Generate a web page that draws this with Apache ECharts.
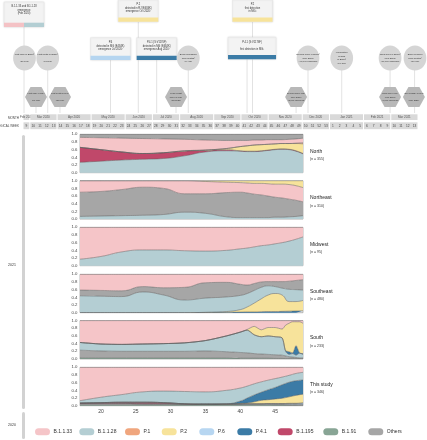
<!DOCTYPE html>
<html><head><meta charset="utf-8">
<script src="https://cdn.jsdelivr.net/npm/echarts@6/dist/echarts.min.js"></script>
<style>html,body{margin:0;padding:0;background:#fff}#c{width:427px;height:440px}</style>
</head><body><div id="c"></div>
<script>
// ---------- DATA ----------
const weeks = [17,20,23,26,29,32,35,38,40,41,42,43,44,45,46,47,48,49];
const weeksSouth = [17,20,23,26,29,32,35,38,40,41,42,43,44,45,46,46.5,47,47.5,48,48.5,49];
const xTickLabels = [20,25,30,35,40,45];
const lineageNames = ['B.1.1.33','B.1.1.28','P.1','P.2','P.6','P.4.1','B.1.195','B.1.91','Others'];

// North
const northB1128 = [0.27,0.30,0.33,0.35,0.37,0.44,0.54,0.57,0.56,0.55,0.55,0.56,0.58,0.60,0.61,0.60,0.56,0.49];
const northB1195 = [0.39,0.30,0.21,0.15,0.15,0.12,0.04,0.03,0.01,0.01,0.01,0.01,0.01,0.01,0.01,0.01,0.01,0.01];
const northP2    = [0,0,0,0,0,0.01,0.01,0.03,0.11,0.14,0.16,0.16,0.15,0.14,0.14,0.15,0.19,0.25];
const northP1    = [0,0,0,0,0,0,0,0,0,0,0,0,0,0,0,0,0.01,0.03];
const northB1133 = [0.26,0.31,0.36,0.39,0.36,0.30,0.26,0.21,0.16,0.14,0.13,0.12,0.12,0.11,0.10,0.11,0.11,0.12];
const northOthers= [0.08,0.09,0.10,0.11,0.12,0.13,0.15,0.16,0.16,0.16,0.15,0.15,0.14,0.14,0.14,0.13,0.12,0.10];
// Northeast
const neB1128  = [0.07,0.08,0.09,0.10,0.12,0.18,0.15,0.06,0.04,0.04,0.04,0.04,0.04,0.05,0.05,0.06,0.07,0.09];
const neOthers = [0.63,0.64,0.68,0.73,0.68,0.48,0.51,0.63,0.66,0.64,0.61,0.59,0.56,0.52,0.50,0.46,0.42,0.36];
const neB1133  = [0.30,0.28,0.23,0.17,0.20,0.34,0.32,0.27,0.25,0.26,0.28,0.30,0.32,0.34,0.36,0.38,0.38,0.37];
const neP2     = [0,0,0,0,0,0,0.02,0.04,0.05,0.06,0.07,0.07,0.08,0.09,0.09,0.10,0.13,0.18];
// Midwest
const mwB1128 = [0.17,0.24,0.36,0.41,0.41,0.39,0.38,0.40,0.44,0.46,0.49,0.52,0.54,0.57,0.60,0.64,0.69,0.75];
const mwB1133 = [0.83,0.76,0.64,0.59,0.59,0.61,0.62,0.60,0.56,0.54,0.51,0.48,0.46,0.43,0.40,0.36,0.31,0.25];
// Southeast
const seP41    = [0,0,0,0,0,0,0.005,0.01,0.015,0.02,0.02,0.025,0.03,0.03,0.035,0.04,0.045,0.05];
const seP2     = [0,0,0,0,0,0,0.005,0.02,0.065,0.13,0.23,0.335,0.43,0.47,0.425,0.25,0.245,0.27];
const seB1128  = [0.44,0.43,0.42,0.54,0.46,0.33,0.37,0.38,0.37,0.35,0.33,0.30,0.24,0.18,0.18,0.32,0.31,0.27];
const seOthers = [0.15,0.15,0.15,0.14,0.19,0.33,0.40,0.38,0.29,0.22,0.18,0.14,0.11,0.13,0.17,0.21,0.24,0.27];
const seB1133  = [0.41,0.42,0.43,0.32,0.35,0.34,0.22,0.21,0.26,0.28,0.24,0.20,0.19,0.19,0.19,0.18,0.16,0.14];
// South
const sB191   = [0.03,0.03,0.03,0.03,0.03,0.03,0.03,0.03,0.02,0.02,0.02,0.02,0.02,0.015,0.015,0.01,0.01,0.01,0.01,0.01,0.01];
const sOthers = [0.20,0.18,0.17,0.17,0.17,0.17,0.18,0.16,0.15,0.14,0.12,0.11,0.10,0.095,0.085,0.07,0.05,0.04,0.03,0.02,0.02];
const sB1128  = [0.20,0.18,0.18,0.19,0.20,0.22,0.27,0.41,0.53,0.59,0.49,0.45,0.48,0.47,0.45,0.12,0.06,0.09,0.06,0.12,0.09];
const sP41    = [0,0,0,0,0,0,0,0,0,0,0,0,0,0,0,0.02,0.07,0.02,0.25,0.01,0.02];
const sP2     = [0,0,0,0,0,0,0,0,0,0.02,0.22,0.18,0.22,0.24,0.23,0.66,0.74,0.81,0.62,0.81,0.79];
const sB1133  = [0.57,0.61,0.62,0.61,0.60,0.58,0.52,0.40,0.30,0.23,0.15,0.24,0.18,0.18,0.22,0.12,0.07,0.03,0.03,0.03,0.07];
// This study
const tB191   = [0.02,0.02,0.02,0.02,0.02,0.02,0.02,0.02,0.02,0.02,0.02,0.02,0.02,0.015,0.015,0.01,0.01,0.01];
const tOthers = [0.04,0.04,0.04,0.03,0.03,0.02,0.02,0.02,0.02,0.02,0.02,0.02,0.02,0.02,0.02,0.02,0.02,0.02];
const tP6     = [0,0,0,0,0,0,0,0,0.005,0.01,0.01,0.01,0.015,0.02,0.02,0.03,0.03,0.04];
const tB1195  = [0.01,0.02,0.03,0.04,0.03,0.01,0,0,0,0,0,0,0,0,0,0,0,0];
const tP2     = [0,0,0,0,0,0,0,0.005,0.015,0.02,0.05,0.09,0.10,0.12,0.14,0.17,0.21,0.23];
const tP41    = [0,0,0,0,0,0,0,0.005,0.06,0.13,0.18,0.21,0.26,0.30,0.35,0.38,0.38,0.37];
const tB1128  = [0.06,0.14,0.20,0.27,0.30,0.32,0.32,0.35,0.34,0.31,0.29,0.27,0.25,0.23,0.20,0.18,0.19,0.20];
const tB1133  = [0.87,0.78,0.71,0.64,0.62,0.63,0.64,0.60,0.54,0.49,0.43,0.38,0.335,0.295,0.255,0.21,0.16,0.13];

const regionNames = ['North','Northeast','Midwest','Southeast','South','This study'];
const regionN = ['(n = 355)','(n = 310)','(n = 95)','(n = 480)','(n = 233)','(n = 346)'];

// Timeline: months and epi weeks
const monthLabels = ['Feb 2020','Mar 2020','Apr 2020','May 2020','Jun 2020','Jul 2020','Aug 2020','Sep 2020','Oct 2020','Nov 2020','Dec 2020','Jan 2021','Feb 2021','Mar 2021'];
const monthWeeks = [[9],[10,11,12,13],[14,15,16,17,18],[19,20,21,22,23],[24,25,26,27],[28,29,30,31],[32,33,34,35,36],[37,38,39,40],[41,42,43,44],[45,46,47,48,49],[50,51,52,53],[1,2,3,4,5],[6,7,8,9],[10,11,12,13]];

// timeline events (position in timeline week units)
const timelineEvents = [
  {kind:'box', w:0.15, y:2, width:40, height:25, colors:['#f4c2c5','#b3ced3'], text:'B.1.1.33 and B.1.1.28\nemergence\n(Feb 2020)'},
  {kind:'box', w:16.93, y:0, width:40, height:21.7, colors:['#f7e39a'], text:'P.2\ndetected in RJ (E484K)\nemergence Oct 2020¹'},
  {kind:'box', w:12.85, y:37.7, width:40, height:22.3, colors:['#b5d5f0'], text:'P.6\ndetected in MG (E484K)\nemergence Jul 2020²'},
  {kind:'box', w:19.63, y:37.7, width:40, height:22.3, colors:['#3b7ba6'], text:'P.4.1 (S:V1176F)\ndetected in MG (E484K)\nemergence Aug 2020²'},
  {kind:'box', w:33.70, y:0, width:40, height:21.7, colors:['#f7e39a'], text:'P.2\nfirst detection\nin MG³'},
  {kind:'box', w:33.63, y:37.3, width:48, height:22, colors:['#3b7ba6'], text:'P.4.1 (S:V1176F)\n\nfirst detection in MG³'},
  {kind:'circle', w:0.22, y:58, text:'First case in Brazil¹\n\n(26 Feb)'},
  {kind:'circle', w:3.63, y:58, text:'First death in Brazil¹\n\n(17 Mar)'},
  {kind:'circle', w:24.27, y:58, text:'Brazil surpasses\n100k deaths¹\n(8 Aug)'},
  {kind:'circle', w:41.85, y:58, text:'Second wave in Brazil¹\n(Nov 2020)\n>40,000 cases/day'},
  {kind:'circle', w:46.80, y:58, text:'Vaccination\nbegins\nin Brazil¹\n(17 Jan)'},
  {kind:'circle', w:53.90, y:58, text:'Third wave in Brazil¹\n(Mar 2021)\n>70,000 cases/day'},
  {kind:'circle', w:57.56, y:58, text:'Brazil reaches\n300k deaths¹\n(24 Mar)'},
  {kind:'hex', w:1.91, y:97, text:'First case in MG⁴\n\n(08 Mar)'},
  {kind:'hex', w:5.43, y:97, text:'First death in MG⁴\n\n(30 Mar)'},
  {kind:'hex', w:22.47, y:97, text:'Peak of first\nwave in MG⁴\n(Jul 2020)'},
  {kind:'hex', w:40.10, y:97, text:'Second wave MG⁴\n(Dec 2020)\n>5,000 cases/day'},
  {kind:'hex', w:53.90, y:97, text:'Third wave MG⁴\n(Mar 2021)\n>9,000 cases/day'},
  {kind:'hex', w:57.40, y:97, text:'ICU collapse in MG⁴\n\n(Mar 2021)'}
];
const connectorWeeks = [0.15,1.91,3.63,5.43,12.85,16.93,19.63,22.47,24.27,32.9,33.7,40.1,41.85,46.8,53.9,57.5];
const connectorTops  = [27,107,70,107,60,22,60,107,70,59,22,107,70,70,70,70];

// ---------- STYLE ----------
const colors = {'B.1.1.33':'#f5c5c8','B.1.1.28':'#b4ced3','P.1':'#f0a67e','P.2':'#f7e39b','P.6':'#b7d6f1','P.4.1':'#3b7ba6','B.1.195':'#c0486a','B.1.91':'#88a595','Others':'#a6a6a6'};
const panelTops = [134.3,180.7,227.3,274.3,320.6,367.3];
const panelH = 38.4;

const panels = [
  {x:weeks, smooth:0.5, layers:[['B.1.1.28',northB1128],['B.1.195',northB1195],['P.2',northP2],['P.1',northP1],['B.1.1.33',northB1133],['Others',northOthers]]},
  {x:weeks, smooth:0.5, layers:[['B.1.1.28',neB1128],['Others',neOthers],['B.1.1.33',neB1133],['P.2',neP2]]},
  {x:weeks, smooth:0.5, layers:[['B.1.1.28',mwB1128],['B.1.1.33',mwB1133]]},
  {x:weeks, smooth:0.5, layers:[['P.4.1',seP41],['P.2',seP2],['B.1.1.28',seB1128],['Others',seOthers],['B.1.1.33',seB1133]]},
  {x:weeksSouth, smooth:0.25, layers:[['B.1.91',sB191],['Others',sOthers],['B.1.1.28',sB1128],['P.4.1',sP41],['P.2',sP2],['B.1.1.33',sB1133]]},
  {x:weeks, smooth:0.5, layers:[['B.1.91',tB191],['Others',tOthers],['P.6',tP6],['B.1.195',tB1195],['P.2',tP2],['P.4.1',tP41],['B.1.1.28',tB1128],['B.1.1.33',tB1133]]}
];

const FONT = 'Liberation Sans, Arial, sans-serif';
const grids = [], xAxes = [], yAxes = [], series = [], titles = [];
panels.forEach((p, i) => {
  grids.push({left:80, width:223, top:panelTops[i], height:panelH, show:true, borderColor:'#8a8a8a', borderWidth:0.6, outerBoundsMode:'none', containLabel:false});
  xAxes.push({type:'value', gridIndex:i, min:17, max:49, axisLine:{show:false}, axisTick:{show:false}, splitLine:{show:false},
    axisLabel:{show:i===5, customValues:xTickLabels, fontSize:5, color:'#444', margin:3, fontFamily:FONT}});
  yAxes.push({type:'value', gridIndex:i, min:0, max:1, interval:0.2, axisLine:{show:false}, axisTick:{show:false}, splitLine:{show:false},
    axisLabel:{fontSize:4.3, color:'#444', margin:2.5, fontFamily:FONT, formatter:v=>v.toFixed(1)}});
  p.layers.forEach(([name, vals]) => {
    // value first so the library stacks the share dimension (by index)
    series.push({type:'line', name, xAxisIndex:i, yAxisIndex:i, stack:'s'+i, smooth:p.smooth, symbol:'none', silent:true,
      data:p.x.map((w,k)=>[vals[k], w]), encode:{x:1, y:0},
      itemStyle:{color:colors[name]}, lineStyle:{width:0.5, color:'#5a5a5a'}, areaStyle:{color:colors[name], opacity:1}, z:2});
  });
  titles.push({text:regionNames[i], subtext:regionN[i], left:310, top:panelTops[i]+14.6, itemGap:3.6, padding:0,
    textStyle:{fontSize:5, fontWeight:'normal', color:'#222', fontFamily:FONT},
    subtextStyle:{fontSize:3.5, color:'#333', fontFamily:FONT}});
});

// timeline grid (index 6): week units along x, pixel rows along y
grids.push({left:23, width:395, top:0, height:440, show:false, outerBoundsMode:'none', containLabel:false});
xAxes.push({type:'value', gridIndex:6, min:0, max:58, show:false});
yAxes.push({type:'value', gridIndex:6, min:0, max:440, inverse:true, show:false});

let start = 0;
const monthData = monthWeeks.map((wk, i) => { const d = [start, start + wk.length, i]; start += wk.length; return d; });

series.push({type:'custom', xAxisIndex:6, yAxisIndex:6, clip:false, silent:true, z:1,
  data: connectorWeeks.map((w,i)=>[w, connectorTops[i]]),
  renderItem(params, api){
    const a = api.coord([api.value(0), api.value(1)]);
    const b = api.coord([api.value(0), 113]);
    return {type:'line', shape:{x1:a[0], y1:a[1], x2:b[0], y2:b[1]}, style:{stroke:'#cfcfcf', lineWidth:0.6}};
  }});

series.push({type:'custom', xAxisIndex:6, yAxisIndex:6, clip:false, silent:true, z:3,
  data: monthData,
  renderItem(params, api){
    const idx = params.dataIndex;
    const s = api.value(0), e = api.value(1);
    const a = api.coord([s, 114.3]), b = api.coord([e, 120]);
    const wa = api.coord([s, 122.3]), wb = api.coord([e, 129.2]);
    const kids = [
      {type:'rect', shape:{x:a[0]+0.5, y:a[1], width:b[0]-a[0]-1, height:b[1]-a[1]}, style:{fill:'#d9d9d9'}},
      {type:'text', style:{text:monthLabels[idx], x:(a[0]+b[0])/2, y:(a[1]+b[1])/2, align:'center', verticalAlign:'middle', fontSize:3, fill:'#555', fontFamily:FONT}},
      {type:'rect', shape:{x:wa[0]+0.5, y:wa[1], width:wb[0]-wa[0]-1, height:wb[1]-wa[1]}, style:{fill:'#d9d9d9'}}
    ];
    monthWeeks[idx].forEach((num, k) => {
      const c = api.coord([s + k + 0.5, 125.8]);
      kids.push({type:'text', style:{text:String(num), x:c[0], y:c[1], align:'center', verticalAlign:'middle', fontSize:3.2, fill:'#444', fontFamily:FONT}});
    });
    return {type:'group', children:kids};
  }});

series.push({type:'custom', xAxisIndex:6, yAxisIndex:6, clip:false, silent:true, z:4,
  data: timelineEvents.map(ev=>[ev.w, ev.y]),
  renderItem(params, api){
    const ev = timelineEvents[params.dataIndex];
    const c = api.coord([api.value(0), api.value(1)]);
    const x = c[0], y = c[1];
    const kids = [];
    if (ev.kind === 'box') {
      const w = ev.width, h = ev.height;
      kids.push({type:'rect', shape:{x:x-w/2, y:y, width:w, height:h}, style:{fill:'#f3f3f3', stroke:'#e3e3e3', lineWidth:0.4, shadowBlur:2, shadowColor:'rgba(0,0,0,0.12)'}});
      ev.colors.forEach((col,k)=>{
        kids.push({type:'rect', shape:{x:x-w/2 + k*w/ev.colors.length, y:y+h-4.3, width:w/ev.colors.length, height:4.3}, style:{fill:col}});
      });
      kids.push({type:'text', style:{text:ev.text, x:x, y:y+3, align:'center', verticalAlign:'top', fontSize:2.6, lineHeight:3.4, fill:'#333', fontFamily:FONT}});
    } else if (ev.kind === 'circle') {
      kids.push({type:'ellipse', shape:{cx:x, cy:y, rx:11.4, ry:12.6}, style:{fill:'#d5d5d5'}});
      kids.push({type:'text', style:{text:ev.text, x:x, y:y, align:'center', verticalAlign:'middle', fontSize:2.3, lineHeight:3.6, fill:'#333', fontFamily:FONT}});
    } else {
      const rx = 11, ry = 10;
      kids.push({type:'polygon', shape:{points:[[x-rx,y],[x-rx/2,y-ry],[x+rx/2,y-ry],[x+rx,y],[x+rx/2,y+ry],[x-rx/2,y+ry]]}, style:{fill:'#b8b8b8'}});
      kids.push({type:'text', style:{text:ev.text, x:x, y:y, align:'center', verticalAlign:'middle', fontSize:2.2, lineHeight:3.4, fill:'#333', fontFamily:FONT}});
    }
    return {type:'group', children:kids};
  }});

// legends (one per item, laid out in columns)
const legendLefts = [35,79.3,125,161.7,199.3,237.3,277.7,323.3,368.3];
const pill = 'path://M3.5,0H11.5A3.5,3.5,0,0,1,11.5,7H3.5A3.5,3.5,0,0,1,3.5,0Z';
const legends = lineageNames.map((name,i)=>({
  data:[{name, icon:pill}], left:legendLefts[i], top:428.3, orient:'horizontal', padding:0, itemWidth:15, itemHeight:7, itemGap:0,
  selectedMode:false, itemStyle:{borderWidth:0}, textStyle:{fontSize:5, color:'#333', fontFamily:FONT, padding:[0,0,0,-1.5]}
}));

const chart = echarts.init(document.getElementById('c'), null, {renderer:'canvas'});
chart.setOption({
  animation:false,
  backgroundColor:'#fff',
  textStyle:{fontFamily:FONT},
  title:titles,
  legend:legends,
  grid:grids, xAxis:xAxes, yAxis:yAxes, series,
  graphic:[
    {type:'text', x:19, y:118, style:{text:'MONTH', align:'right', verticalAlign:'middle', fontSize:3, fill:'#444', fontFamily:FONT}},
    {type:'text', x:19, y:126, style:{text:'EPIDEMIOLOGICAL WEEK', align:'right', verticalAlign:'middle', fontSize:3, fill:'#444', fontFamily:FONT}},
    {type:'rect', x:22, y:135, shape:{width:3, height:274, r:1.5}, style:{fill:'#d2d2d2'}},
    {type:'rect', x:22, y:412, shape:{width:3, height:27, r:1.5}, style:{fill:'#d2d2d2'}},
    {type:'text', x:12, y:265.5, style:{text:'2021', align:'center', verticalAlign:'middle', fontSize:3.5, fill:'#333', fontFamily:FONT}},
    {type:'text', x:12, y:425, style:{text:'2020', align:'center', verticalAlign:'middle', fontSize:3.5, fill:'#333', fontFamily:FONT}}
  ]
});
</script></body></html>
